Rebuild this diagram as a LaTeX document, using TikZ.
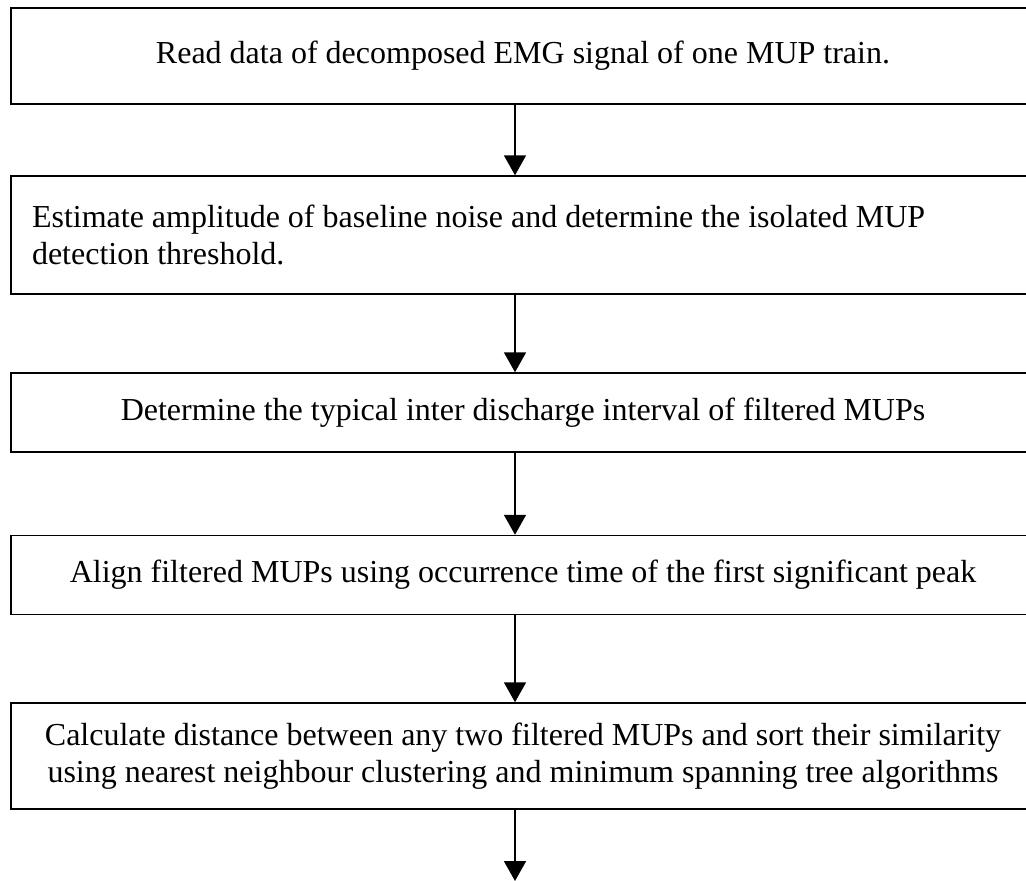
\documentclass[tikz,border=0pt]{standalone}
\usepackage{fontspec}
\setmainfont{Liberation Serif}
\usetikzlibrary{arrows.meta}
\begin{document}
\begin{tikzpicture}[x=1pt,y=-1pt,
  box/.style={draw=black,line width=1.5pt,minimum width=1024pt,inner sep=0pt,
    font=\fontsize{32}{37}\selectfont,align=center},
  flow/.style={line width=1.8pt,-{Triangle[width=22pt,length=20pt]}}]
\useasboundingbox (0,0) rectangle (1026,881);
\fill[white] (0,0) rectangle (1026,881);
\node[box,minimum height=96pt] (b1) at (523,56) {Read data of decomposed EMG signal of one MUP train.};
\node[box,minimum height=118pt,text width=982pt,align=flush left] (b2) at (523,235) {Estimate amplitude of baseline noise and determine the isolated MUP\\detection threshold.};
\node[box,minimum height=79pt] (b3) at (523,412.5) {Determine the typical inter discharge interval of filtered MUPs};
\node[box,minimum height=79pt] (b4) at (523,575) {Align filtered MUPs using occurrence time of the first significant peak};
\node[box,minimum height=106pt] (b5) at (523,756) {Calculate distance between any two filtered MUPs and sort their similarity\\using nearest neighbour clustering and minimum spanning tree algorithms};
\coordinate (end) at (515,881);
\draw[flow] ([xshift=-8pt]b1.south) -- ([xshift=-8pt]b2.north);
\draw[flow] ([xshift=-8pt]b2.south) -- ([xshift=-8pt]b3.north);
\draw[flow] ([xshift=-8pt]b3.south) -- ([xshift=-8pt]b4.north);
\draw[flow] ([xshift=-8pt]b4.south) -- ([xshift=-8pt]b5.north);
\draw[flow] ([xshift=-8pt]b5.south) -- (end);
\end{tikzpicture}
\end{document}
